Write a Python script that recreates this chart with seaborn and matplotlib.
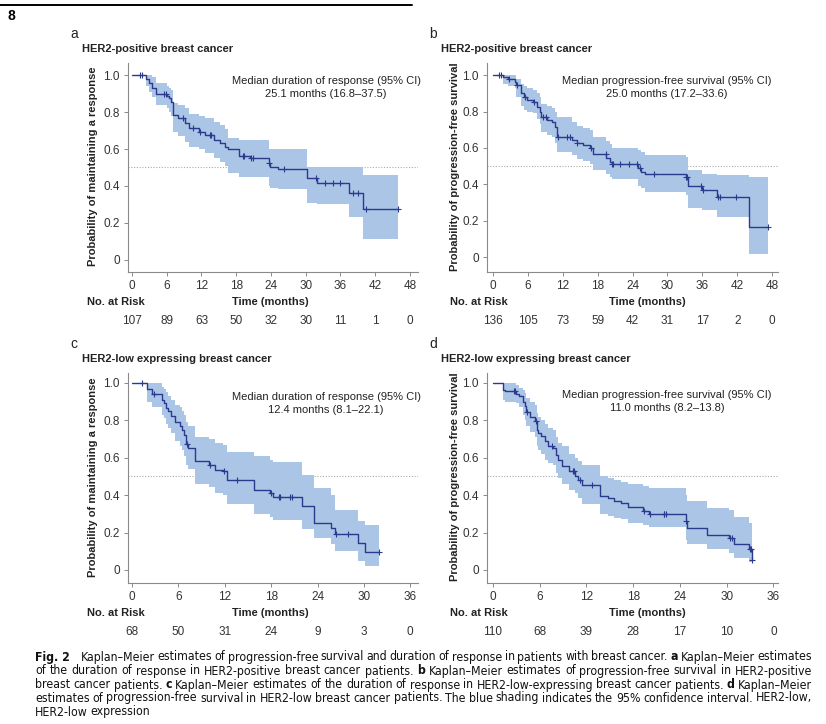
import numpy as np
import matplotlib
matplotlib.use("Agg")
import matplotlib.pyplot as plt
import seaborn as sns
from matplotlib.lines import Line2D
from matplotlib.transforms import blended_transform_factory
from matplotlib import font_manager as fm

# ---------------- data ----------------
# Panel a: duration of response, HER2-positive
a_t = [0, 2.4, 3.0, 3.5, 4.2, 6.0, 6.4, 6.8, 7.1, 8.0, 9.2, 9.8, 11.5, 12.6, 14.1, 15.2, 16.1, 16.5,
       18.4, 20.4, 23.6, 23.9, 25.3, 30.3, 31.9, 37.5, 39.9, 46.0]
a_s = [1.0, 0.98, 0.955, 0.93, 0.90, 0.886, 0.874, 0.856, 0.784, 0.766, 0.739, 0.712, 0.694, 0.676, 0.649,
       0.63, 0.613, 0.598, 0.564, 0.55, 0.523, 0.50, 0.49, 0.441, 0.414, 0.364, 0.274, 0.274]
a_lo = [1.0, 0.94, 0.91, 0.88, 0.84, 0.82, 0.80, 0.78, 0.69, 0.67, 0.64, 0.61, 0.60, 0.58, 0.55, 0.53, 0.51,
        0.47, 0.45, 0.45, 0.40, 0.39, 0.385, 0.31, 0.30, 0.235, 0.115, 0.115]
a_hi = [1.0, 1.0, 1.0, 0.99, 0.955, 0.94, 0.93, 0.92, 0.85, 0.84, 0.82, 0.79, 0.78, 0.77, 0.745, 0.73, 0.71,
        0.66, 0.65, 0.65, 0.60, 0.60, 0.60, 0.50, 0.50, 0.50, 0.46, 0.46]
a_cens = [1.3, 1.7, 5.6, 5.9, 8.8, 10.6, 11.8, 13.4, 13.7, 19.25, 19.4, 20.6, 20.9, 23.7, 26.3, 31.7, 33.3,
          34.7, 36.0, 38.1, 39.1, 40.4, 46.0]
a_risk = [107, 89, 63, 50, 32, 30, 11, 1, 0]

# Panel b: PFS, HER2-positive
b_t = [0, 1.7, 2.6, 3.7, 4.0, 4.9, 5.3, 5.9, 6.9, 7.5, 8.0, 8.3, 9.3, 10.1, 10.6, 11.0, 13.5, 14.4, 15.5,
       16.7, 17.2, 19.5, 20.1, 20.4, 25.0, 25.4, 26.1, 33.1, 33.6, 35.9, 38.5, 44.0, 47.3]
b_s = [1.0, 0.99, 0.976, 0.963, 0.945, 0.90, 0.88, 0.863, 0.854, 0.826, 0.80, 0.77, 0.753, 0.744, 0.717,
       0.662, 0.643, 0.625, 0.616, 0.598, 0.567, 0.543, 0.525, 0.512, 0.488, 0.47, 0.457, 0.44, 0.39, 0.37,
       0.333, 0.168, 0.168]
b_lo = [1.0, 0.95, 0.94, 0.93, 0.88, 0.83, 0.81, 0.80, 0.79, 0.76, 0.73, 0.69, 0.67, 0.66, 0.63, 0.58, 0.56,
        0.54, 0.53, 0.51, 0.48, 0.46, 0.44, 0.43, 0.39, 0.38, 0.36, 0.34, 0.27, 0.26, 0.22, 0.02, 0.02]
b_hi = [1.0, 1.0, 1.0, 1.0, 0.98, 0.95, 0.94, 0.93, 0.92, 0.90, 0.88, 0.84, 0.83, 0.82, 0.80, 0.77, 0.74,
        0.72, 0.71, 0.70, 0.66, 0.64, 0.62, 0.60, 0.59, 0.58, 0.56, 0.55, 0.48, 0.46, 0.45, 0.44, 0.44]
b_cens = [1.0, 1.3, 2.8, 4.2, 5.5, 7.1, 8.6, 9.1, 11.2, 12.8, 13.3, 14.5, 16.8, 19.4, 20.5, 20.6, 21.8, 23.3,
          24.7, 25.3, 27.6, 33.2, 33.3, 35.7, 36.1, 38.7, 39.0, 41.7, 47.3]
b_risk = [136, 105, 73, 59, 42, 31, 17, 2, 0]

# Panel c: duration of response, HER2-low
c_t = [0, 1.9, 2.6, 3.9, 4.1, 4.4, 4.7, 5.05, 5.6, 6.25, 6.5, 6.7, 7.0, 7.3, 8.2, 9.9, 10.8, 11.8, 12.3,
       15.8, 17.9, 18.2, 22.0, 23.5, 25.7, 26.3, 29.3, 30.2, 31.9]
c_s = [1.0, 0.968, 0.94, 0.91, 0.893, 0.866, 0.848, 0.825, 0.79, 0.77, 0.75, 0.72, 0.675, 0.652, 0.58,
       0.5625, 0.536, 0.527, 0.482, 0.428, 0.41, 0.39, 0.34, 0.25, 0.223, 0.193, 0.143, 0.095, 0.095]
c_lo = [1.0, 0.90, 0.87, 0.83, 0.81, 0.78, 0.76, 0.73, 0.69, 0.66, 0.64, 0.61, 0.56, 0.54, 0.46, 0.445,
        0.41, 0.40, 0.35, 0.30, 0.285, 0.265, 0.22, 0.17, 0.14, 0.10, 0.05, 0.02, 0.02]
c_hi = [1.0, 1.0, 1.0, 0.98, 0.97, 0.95, 0.93, 0.91, 0.88, 0.87, 0.85, 0.83, 0.79, 0.77, 0.71, 0.70,
        0.68, 0.67, 0.63, 0.61, 0.59, 0.575, 0.51, 0.44, 0.40, 0.32, 0.26, 0.24, 0.24]
c_cens = [1.3, 2.8, 7.1, 10.05, 11.9, 13.6, 18.0, 19.0, 19.2, 20.5, 20.7, 26.4, 28.0, 31.9]
c_risk = [68, 50, 31, 24, 9, 3, 0]

# Panel d: PFS, HER2-low
d_t = [0, 1.3, 1.5, 3.0, 3.4, 3.9, 4.1, 4.2, 4.7, 5.4, 5.6, 5.8, 6.2, 6.7, 7.1, 7.7, 8.1, 8.4, 8.8, 9.7,
       10.5, 10.95, 11.4, 13.75, 14.8, 15.5, 16.5, 17.4, 19.3, 20.0, 24.75, 24.9, 27.5, 30.3, 30.9, 32.9,
       33.2, 33.3]
d_s = [1.0, 0.964, 0.955, 0.943, 0.93, 0.90, 0.875, 0.843, 0.82, 0.795, 0.75, 0.73, 0.714, 0.6875, 0.66,
       0.65, 0.616, 0.586, 0.554, 0.527, 0.504, 0.482, 0.455, 0.396, 0.384, 0.371, 0.357, 0.336, 0.3125,
       0.298, 0.259, 0.223, 0.1875, 0.17, 0.139, 0.11, 0.054, 0.054]
d_lo = [1.0, 0.91, 0.90, 0.89, 0.87, 0.83, 0.80, 0.77, 0.74, 0.71, 0.66, 0.64, 0.62, 0.59, 0.57, 0.56,
        0.52, 0.49, 0.46, 0.43, 0.41, 0.385, 0.35, 0.30, 0.29, 0.28, 0.27, 0.25, 0.24, 0.23, 0.16, 0.14,
        0.11, 0.09, 0.065, 0.04, 0.01, 0.01]
d_hi = [1.0, 1.0, 1.0, 0.99, 0.975, 0.96, 0.945, 0.92, 0.90, 0.88, 0.84, 0.82, 0.80, 0.78, 0.76, 0.75,
        0.71, 0.68, 0.66, 0.62, 0.60, 0.58, 0.56, 0.50, 0.49, 0.48, 0.47, 0.46, 0.45, 0.44, 0.40, 0.37,
        0.33, 0.32, 0.285, 0.25, 0.20, 0.20]
d_cens = [2.66, 2.8, 4.4, 5.46, 7.6, 10.3, 10.4, 11.2, 12.7, 19.35, 20.2, 21.9, 22.0, 22.2, 24.8, 30.5,
          30.7, 32.95, 33.1, 33.3]
d_risk = [110, 68, 39, 28, 17, 10, 0]

titles = ["HER2-positive breast cancer", "HER2-positive breast cancer",
          "HER2-low expressing breast cancer", "HER2-low expressing breast cancer"]
ylabels = ["Probability of maintaining a response", "Probability of progression-free survival",
           "Probability of maintaining a response", "Probability of progression-free survival"]
notes = [("Median duration of response (95% CI)", "25.1 months (16.8\u201337.5)"),
         ("Median progression-free survival (95% CI)", "25.0 months (17.2\u201333.6)"),
         ("Median duration of response (95% CI)", "12.4 months (8.1\u201322.1)"),
         ("Median progression-free survival (95% CI)", "11.0 months (8.2\u201313.8)")]
letters = ["a", "b", "c", "d"]
xmax_ticks = [48, 48, 36, 36]

# ---------------- style ----------------
sns.set_style("ticks")
plt.rcParams["font.family"] = ["Liberation Sans", "DejaVu Sans"]

W, H = 826, 724
fig = plt.figure(figsize=(W / 100, H / 100), dpi=100)

LINE = "#2b3a8c"
BAND = "#abc5e7"
GREY = "#8a8a8a"
TXT = "#333333"
DARK = "#222222"


def fx(x):
    return x / W


def fy(y):
    return 1 - y / H


def ftext(x, y, s, **kw):
    kw.setdefault("va", "center")
    return fig.text(fx(x), fy(y), s, **kw)


geo = [
    dict(l=128, r=418, t=63, b=272, xlim=(-0.69, 49.4), ylim=(-0.065, 1.065), dx=0, dy=0),
    dict(l=487, r=778, t=63, b=272, xlim=(-1.03, 49.0), ylim=(-0.08, 1.066), dx=359, dy=0),
    dict(l=128, r=418, t=373, b=583, xlim=(-0.52, 37.0), ylim=(-0.07, 1.053), dx=0, dy=310),
    dict(l=487, r=778, t=373, b=583, xlim=(-0.77, 36.6), ylim=(-0.07, 1.053), dx=359, dy=310),
]

data = [(a_t, a_s, a_lo, a_hi, a_cens, a_risk),
        (b_t, b_s, b_lo, b_hi, b_cens, b_risk),
        (c_t, c_s, c_lo, c_hi, c_cens, c_risk),
        (d_t, d_s, d_lo, d_hi, d_cens, d_risk)]

note_x = [326, 667, 326, 667]
note_y = [81, 81, 397, 395]
time_x = [270, 647, 270, 647]
FS = 8

for i, g in enumerate(geo):
    t, s, lo, hi, cens, risk = data[i]
    ax = fig.add_axes([fx(g["l"]), fy(g["b"]), fx(g["r"] - g["l"]), (g["b"] - g["t"]) / H])
    ax.set_facecolor("none")
    ax.fill_between(t, lo, hi, step="post", color=BAND, lw=0, zorder=1)
    ax.axhline(0.5, color="#aaaaaa", ls=(0, (1, 1.5)), lw=0.8, zorder=0.5)
    sns.lineplot(x=t, y=s, drawstyle="steps-post", color=LINE, lw=1.0, ax=ax,
                 estimator=None, sort=False, zorder=3)
    tt = np.asarray(t)
    ss = np.asarray(s)
    idx = np.searchsorted(tt, np.asarray(cens), side="right") - 1
    sns.scatterplot(x=cens, y=ss[idx], marker="+", s=22, color=LINE, linewidth=0.8, ax=ax, zorder=4)
    ax.set_xlim(*g["xlim"])
    ax.set_ylim(*g["ylim"])
    xt = list(range(0, xmax_ticks[i] + 1, 6))
    ax.set_xticks(xt)
    ax.set_xticklabels([str(v) for v in xt])
    ax.set_yticks([0, 0.2, 0.4, 0.6, 0.8, 1.0])
    ax.set_yticklabels(["0", "0.2", "0.4", "0.6", "0.8", "1.0"])
    ax.set_xlabel("")
    ax.set_ylabel("")
    for sp in ["top", "right"]:
        ax.spines[sp].set_visible(False)
    for sp in ["left", "bottom"]:
        ax.spines[sp].set_color(GREY)
        ax.spines[sp].set_linewidth(0.8)
    ax.tick_params(axis="both", direction="out", length=3, width=0.7, color=GREY,
                   labelsize=8.5, labelcolor=TXT, pad=3)

    dx, dy = g["dx"], g["dy"]
    ftext(70 + dx, 34 + dy, letters[i], fontsize=10, ha="left", color=DARK)
    ftext(82 + dx, 49 + dy, titles[i], fontsize=FS, fontweight="bold", ha="left", color=DARK)
    ftext(93 + (362 if i % 2 else 0), (g["t"] + g["b"]) / 2 - 1, ylabels[i], rotation=90,
          ha="center", fontsize=FS, fontweight="bold", color=DARK)
    ftext(note_x[i], note_y[i], notes[i][0], ha="center", fontsize=FS, color=DARK)
    ftext(note_x[i], note_y[i] + 13, notes[i][1], ha="center", fontsize=FS, color=DARK)
    ftext(87 + (363 if i % 2 else 0), g["b"] + 30, "No. at Risk", ha="left", fontsize=FS,
          fontweight="bold", color=DARK)
    ftext(time_x[i], g["b"] + 30, "Time (months)", ha="center", fontsize=FS, fontweight="bold",
          color=DARK)
    tr = blended_transform_factory(ax.transData, fig.transFigure)
    for xv, n in zip(xt, risk):
        ax.text(xv, fy(g["b"] + 49), str(n), transform=tr, ha="center", va="center",
                fontsize=8.5, color=TXT)

# header
fig.add_artist(Line2D([0, fx(412)], [fy(5), fy(5)], color="black", lw=1.4))
ftext(7, 16, "8", fontsize=10, fontweight="bold", ha="left", color="black")


# ---------------- caption (justified) ----------------
def pick_caption_font():
    try:
        p = fm.findfont(fm.FontProperties(family="Liberation Sans Narrow"), fallback_to_default=False)
        if "Narrow" in p:
            return dict(family="Liberation Sans Narrow")
    except Exception:
        pass
    try:
        p = fm.findfont(fm.FontProperties(family="DejaVu Sans", stretch="condensed"),
                        fallback_to_default=False)
        if "Condensed" in p:
            return dict(family="DejaVu Sans", fontstretch="condensed")
    except Exception:
        pass
    return dict(family="Liberation Sans")


CAP = pick_caption_font()
cap_lines = [
    [("Fig. 2", True)] + [(w, w == "a") for w in
     "Kaplan\u2013Meier estimates of progression-free survival and duration of response in patients with breast cancer. a Kaplan\u2013Meier estimates".split(" ")],
    [(w, w == "b") for w in "of the duration of response in HER2-positive breast cancer patients. b Kaplan\u2013Meier estimates of progression-free survival in HER2-positive".split(" ")],
    [(w, w in ("c", "d")) for w in "breast cancer patients. c Kaplan\u2013Meier estimates of the duration of response in HER2-low-expressing breast cancer patients. d Kaplan\u2013Meier".split(" ")],
    [(w, False) for w in "estimates of progression-free survival in HER2-low breast cancer patients. The blue shading indicates the 95% confidence interval. HER2-low,".split(" ")],
    [(w, False) for w in "HER2-low expression".split(" ")],
]
cap_y = [657, 671, 685, 698, 712]
X0, X1 = 35, 812
renderer = fig.canvas.get_renderer()


def measure(words, size):
    ws = []
    for w, bold in words:
        o = ftext(0, 0, w, fontsize=size, fontweight="bold" if bold else "normal", ha="left", **CAP)
        ws.append(o.get_window_extent(renderer).width)
        o.remove()
    return ws


base = 9.0
size = base
for words in cap_lines[:4]:
    ws = measure(words, base)
    avail = (X1 - X0) - 8 - 2.6 * (len(words) - 1)
    size = min(size, base * avail / sum(ws))

for li, (words, yy) in enumerate(zip(cap_lines, cap_y)):
    objs, widths = [], []
    for w, bold in words:
        o = ftext(0, yy, w, fontsize=size, fontweight="bold" if bold else "normal",
                  ha="left", color="#111111", **CAP)
        objs.append(o)
        widths.append(o.get_window_extent(renderer).width)
    n = len(words)
    extra = [0.0] * n
    if li == 0:
        extra[1] = 8.0
    if li < 4 and n > 1:
        gap = (X1 - X0 - sum(widths) - sum(extra)) / (n - 1)
    else:
        gap = 2.8
    x = X0
    for k, o in enumerate(objs):
        x += extra[k]
        o.set_x(fx(x))
        x += widths[k] + gap

fig.savefig("out.png", dpi=100)
